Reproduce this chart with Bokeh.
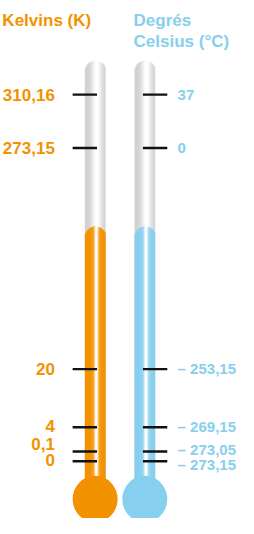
import math
from bokeh.plotting import figure
from bokeh.models import Range1d
from bokeh.core.properties import value
from bokeh.embed import file_html
from bokeh.resources import INLINE

# ---------------- data ----------------
kelvin_title = "Kelvins (K)"
celsius_title = ["Degrés", "Celsius (°C)"]
kelvin_values = [310.16, 273.15, 20, 4, 0.1, 0]
celsius_values = [37, 0, -253.15, -269.15, -273.05, -273.15]

# ---------------- layout (illustration scale, reference pixels) ----------------
tick_y = [97, 152, 380, 440, 465, 475]          # broken illustrative scale
k_label_y = [97, 152, 380, 439, 457, 474]
c_label_y = [97, 152, 379, 439, 463, 478]
ORANGE = (243, 146, 0)
BLUE = (135, 207, 238)
GREY = (188, 188, 188)
TUBE_W = 22
TUBES = [(90, ORANGE), (143, BLUE)]   # left edge of each tube
GLASS_TOP = 62
FILL_TOP = 233
BULB_Y = 514
BULB_R = 24


def fmt(v):
    s = f"{abs(v):g}".replace(".", ",")
    return ("\u2013 " + s) if v < 0 else s


def hexc(c):
    return "#%02x%02x%02x" % tuple(max(0, min(255, int(round(x)))) for x in c)


def shade(base, t):
    t = max(0.0, min(1.0, t))
    return hexc([b + (255 - b) * t for b in base])


def glass_profile(u):
    return 0.3 + 0.7 * math.exp(-((u - 0.58) / 0.25) ** 2)


def fill_profile(u):
    return 0.92 * math.exp(-((u - 0.56) / 0.09) ** 2) + 0.2 * math.exp(-((u - 0.55) / 0.2) ** 2)


p = figure(width=238, height=518, output_backend="svg", toolbar_location=None,
           x_range=Range1d(0, 254), y_range=Range1d(534, 0),
           min_border=0, background_fill_color="white", border_fill_color="white")
p.axis.visible = False
p.grid.visible = False
p.outline_line_color = None

for left, col in TUBES:
    cx = left + TUBE_W / 2
    r = TUBE_W / 2
    for top0, base, prof in [(GLASS_TOP, GREY, glass_profile), (FILL_TOP, col, fill_profile)]:
        L, R, T, B, C = [], [], [], [], []
        n = TUBE_W
        w = TUBE_W / n
        for i in range(n):
            x0 = left + i * w
            dx = x0 + w / 2 - cx
            top = top0 + r - math.sqrt(max(r * r - dx * dx, 0))
            u = (i + 0.5) / n
            L.append(x0)
            R.append(min(x0 + 2 * w, left + TUBE_W))
            T.append(top); B.append(BULB_Y)
            C.append(shade(base, prof(u)))
        p.quad(left=L, right=R, top=T, bottom=B, fill_color=C, line_color=None)
    p.ellipse(x=[cx], y=[BULB_Y], width=2 * BULB_R, height=2 * BULB_R,
              fill_color=hexc(col), line_color=None)

# ticks
p.segment(x0=[77] * len(tick_y), x1=[103] * len(tick_y), y0=tick_y, y1=tick_y,
          line_color="#111111", line_width=2.4)
p.segment(x0=[152] * len(tick_y), x1=[178] * len(tick_y), y0=tick_y, y1=tick_y,
          line_color="#111111", line_width=2.4)

font = value("Liberation Sans")
p.text(x=[58] * len(kelvin_values), y=k_label_y, text=[fmt(v) for v in kelvin_values],
       text_font=font, text_font_style="bold", text_font_size="17px",
       text_align="right", text_baseline="middle", text_color=hexc(ORANGE))
p.text(x=[189] * len(celsius_values), y=c_label_y, text=[fmt(v) for v in celsius_values],
       text_font=font, text_font_style="bold", text_font_size="15px",
       text_align="left", text_baseline="middle", text_color=hexc(BLUE))

p.text(x=[2], y=[21], text=[kelvin_title], text_font=font, text_font_style="bold",
       text_font_size="17px", text_align="left", text_baseline="middle", text_color=hexc(ORANGE))
p.text(x=[142, 142], y=[21, 42], text=celsius_title, text_font=font, text_font_style="bold",
       text_font_size="17px", text_align="left", text_baseline="middle", text_color=hexc(BLUE))

open("out.html", "w").write(file_html(p, INLINE))
